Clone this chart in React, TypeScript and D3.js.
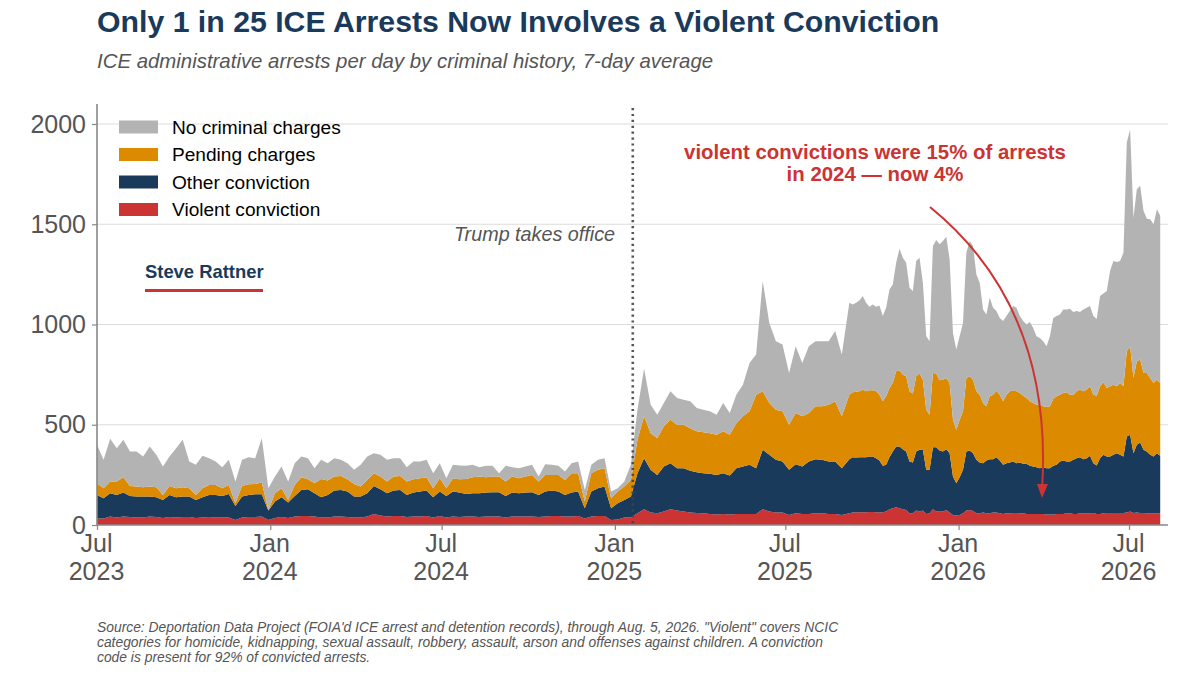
import React, { useEffect, useRef } from 'react';
import * as d3 from 'd3';

const font = '"Liberation Sans", Arial, sans-serif';

// readings, each one is the height of that band's upper edge.
// weekly up to spring 2025 - 114 values, then about twice a week - 94 values
const violentTop = [
  33, 33, 42, 38, 42, 40, 38, 38, 42, 40, 35, 40, 38, 40, 40, 35, 38, 40, 38, 38, 38, 25, 38, 40, 40, 42, 25, 35, 40, 35, 42, 45, 45, 42, 38, 38, 42, 42, 40, 38, 38, 42, 55, 48, 42,
  45, 45, 40, 42, 42, 45, 38, 45, 38, 42, 40, 42, 42, 40, 42, 42, 42, 38, 42, 42, 42, 42, 40, 42, 45, 45, 42, 42, 45, 33, 42, 45, 45, 25, 28, 38, 38,
  58, 78, 62, 58, 67, 78, 72, 67, 62, 60, 58, 55, 52, 55, 52, 55, 55, 55, 55, 78, 67, 62, 62, 50, 58, 55, 55, 58, 58, 55, 55, 50,
  58, 62, 63, 63, 63, 63, 65, 65, 63, 62, 63, 67, 78, 83, 88, 83, 78, 75, 58, 58, 72, 67, 72, 55, 58, 78, 67, 70, 67, 75, 62, 50, 47, 50, 58, 72, 75, 70, 58, 58, 62, 58, 58, 62, 62, 58, 55,
  58, 58, 60, 60, 58, 58, 55, 55, 55, 55, 55, 55, 52, 52, 52, 55, 55, 55, 58, 58, 55, 55, 58, 58, 58, 58, 60, 55, 55, 58, 60, 60, 60, 60, 60, 60, 62, 67, 60, 62, 60, 60, 58, 58, 58, 58, 58,
];
const otherTop = [
  150, 133, 158, 150, 162, 145, 142, 142, 142, 138, 125, 150, 138, 142, 142, 125, 138, 150, 150, 145, 155, 95, 142, 150, 153, 153, 72, 117, 138, 112, 145, 175, 178, 158, 138, 150, 172, 175, 167, 142, 142, 158, 195, 178, 158,
  172, 175, 150, 162, 167, 172, 138, 167, 145, 167, 162, 155, 158, 158, 162, 163, 163, 145, 162, 158, 162, 163, 150, 167, 172, 167, 150, 162, 167, 83, 167, 183, 192, 83, 108, 125, 142,
  258, 333, 275, 250, 292, 308, 283, 283, 270, 263, 258, 255, 250, 258, 247, 283, 292, 300, 283, 375, 350, 325, 317, 275, 303, 292, 317, 328, 325, 317, 317, 283,
  328, 338, 337, 338, 338, 338, 342, 342, 333, 322, 295, 300, 338, 367, 392, 392, 378, 367, 317, 312, 367, 375, 375, 275, 275, 388, 388, 372, 367, 378, 358, 242, 208, 238, 275, 367, 372, 358, 325, 312, 308, 322, 328, 328, 338, 322, 300,
  308, 312, 317, 308, 312, 305, 305, 295, 292, 288, 283, 288, 283, 283, 295, 300, 317, 322, 317, 317, 325, 333, 338, 328, 333, 345, 308, 297, 333, 350, 342, 342, 350, 358, 350, 342, 442, 450, 358, 400, 412, 375, 367, 350, 342, 358, 345,
];
const pendingTop = [
  208, 183, 217, 217, 238, 195, 192, 188, 192, 188, 150, 195, 183, 188, 183, 150, 183, 200, 200, 183, 200, 108, 195, 203, 205, 212, 75, 158, 183, 125, 200, 238, 228, 208, 230, 222, 242, 245, 228, 205, 192, 225, 258, 242, 217,
  242, 245, 217, 228, 233, 237, 183, 233, 183, 233, 228, 230, 238, 242, 238, 242, 242, 217, 242, 233, 242, 250, 217, 250, 250, 250, 225, 258, 258, 117, 258, 275, 283, 133, 167, 192, 225,
  425, 542, 458, 433, 492, 525, 500, 500, 483, 467, 462, 458, 450, 467, 450, 508, 542, 567, 650, 667, 608, 575, 567, 500, 558, 542, 558, 592, 592, 600, 617, 542,
  650, 662, 665, 667, 675, 667, 672, 672, 667, 650, 617, 642, 683, 708, 767, 772, 750, 742, 667, 655, 742, 755, 725, 575, 550, 758, 755, 722, 725, 733, 708, 525, 475, 525, 567, 733, 742, 725, 667, 650, 608, 592, 642, 650, 670, 650, 617,
  650, 667, 672, 667, 658, 645, 633, 617, 608, 600, 600, 592, 588, 592, 628, 642, 650, 658, 662, 650, 650, 667, 675, 667, 675, 692, 650, 645, 692, 712, 683, 692, 700, 692, 708, 692, 867, 892, 733, 817, 825, 758, 758, 733, 708, 725, 708,
];
const totalTop = [
  400, 325, 430, 383, 425, 367, 367, 342, 392, 350, 292, 342, 383, 425, 317, 300, 345, 333, 317, 288, 325, 217, 325, 338, 333, 433, 183, 242, 292, 217, 308, 342, 333, 283, 325, 308, 333, 325, 308, 275, 300, 342, 358, 350, 325,
  333, 333, 288, 317, 317, 325, 258, 308, 233, 300, 297, 295, 300, 288, 295, 295, 258, 295, 288, 283, 292, 300, 242, 303, 300, 295, 267, 308, 317, 175, 300, 325, 333, 167, 183, 217, 300,
  575, 780, 600, 550, 608, 667, 633, 625, 617, 583, 575, 567, 550, 608, 558, 650, 700, 808, 850, 1217, 1008, 917, 900, 758, 892, 808, 892, 917, 917, 917, 967, 850,
  1108, 1100, 1108, 1120, 1142, 1108, 1088, 1100, 1088, 1095, 1042, 1083, 1175, 1200, 1308, 1378, 1333, 1308, 1183, 1167, 1317, 1333, 1208, 942, 917, 1392, 1422, 1400, 1417, 1438, 1325, 958, 875, 942, 1008, 1358, 1417, 1392, 1250, 1208, 1075, 1050, 1133, 1083, 1067, 1033, 1017,
  1042, 1067, 1092, 1083, 1042, 1017, 1000, 1012, 983, 942, 933, 917, 892, 942, 1033, 1042, 1050, 1075, 1075, 1078, 1062, 1067, 1062, 1075, 1083, 1092, 1042, 1028, 1142, 1155, 1167, 1267, 1317, 1312, 1317, 1358, 1908, 1972, 1533, 1675, 1692, 1567, 1528, 1525, 1500, 1575, 1542,
];

const seriesNames = ['Violent conviction', 'Other conviction', 'Pending charges', 'No criminal charges'];
const seriesColors = ['#cc3333', '#1a3a5c', '#dc8a00', '#b3b3b3'];
const yTicks = [0, 500, 1000, 1500, 2000];
const xTicks = ['2023-07-01', '2024-01-01', '2024-07-01', '2025-01-01', '2025-07-01', '2026-01-01', '2026-07-01'];
const footnote = [
  'Source: Deportation Data Project (FOIA\'d ICE arrest and detention records), through Aug. 5, 2026. "Violent" covers NCIC',
  'categories for homicide, kidnapping, sexual assault, robbery, assault, arson and offenses against children. A conviction',
  'code is present for 92% of convicted arrests.',
];

const parseDay = d3.timeParse('%Y-%m-%d');
const startDate = parseDay('2023-07-01') as Date;
const inaugDate = parseDay('2025-01-20') as Date;
const weeklyCount = 114;
const dates = totalTop.map((_, i) => {
  const days = i < weeklyCount ? i * 7 : weeklyCount * 7 + 1 + (i - weeklyCount) * 3.55;
  return new Date(startDate.getTime() + days * 864e5);
});

const App: React.FC = () => {
  const chartRef = useRef<SVGSVGElement | null>(null);

  useEffect(() => {
    if (!chartRef.current) return;
    const svg = d3.select(chartRef.current);
    svg.selectAll('*').remove();

    const left = 97;
    const bottom = 525;

    const x = d3.scaleTime()
      .domain([startDate, parseDay('2026-07-01') as Date])
      .range([left, 1129]);
    const y = d3.scaleLinear().domain([0, 2000]).range([bottom, 124]);

    // Title block
    svg.append('text').attr('x', left).attr('y', 32).text('Only 1 in 25 ICE Arrests Now Involves a Violent Conviction')
      .style('font', `bold 30.25px ${font}`).style('fill', '#1a3a5c');
    svg.append('text').attr('x', left).attr('y', 68).text('ICE administrative arrests per day by criminal history, 7-day average')
      .style('font', `italic 20.4px ${font}`).style('fill', '#555');

    // Gridlines
    svg.append('g').selectAll('line').data(yTicks.slice(1)).enter().append('line')
      .attr('x1', left).attr('x2', 1168)
      .attr('y1', (d) => y(d)).attr('y2', (d) => y(d))
      .style('stroke', '#dcdcdc').style('stroke-width', 1.2);

    // Stacked bands
    const rows = dates.map((date, i) => ({
      date,
      [seriesNames[0]]: violentTop[i],
      [seriesNames[1]]: otherTop[i] - violentTop[i],
      [seriesNames[2]]: pendingTop[i] - otherTop[i],
      [seriesNames[3]]: totalTop[i] - pendingTop[i],
    }));
    const stacked = d3.stack<any>().keys(seriesNames)(rows);
    const area = d3.area<any>()
      .x((d) => x(d.data.date))
      .y0((d) => y(d[0]))
      .y1((d) => y(d[1]));

    svg.append('g').selectAll('path').data(stacked).enter().append('path')
      .attr('d', area as any)
      .style('fill', (_, i) => seriesColors[i]);

    // Inauguration marker
    svg.append('line')
      .attr('x1', x(inaugDate)).attr('x2', x(inaugDate))
      .attr('y1', 108).attr('y2', bottom)
      .style('stroke', '#444').style('stroke-width', 2.6).style('stroke-dasharray', '2.2 3.7').style('opacity', 0.9);
    svg.append('text').attr('x', 615).attr('y', 241).attr('text-anchor', 'end').text('Trump takes office')
      .style('font', `italic 19.75px ${font}`).style('fill', '#555');

    // Axes
    const yAxis = svg.append('g').attr('transform', `translate(${left},0)`)
      .call(d3.axisLeft(y).tickValues(yTicks).tickSize(5).tickPadding(6).tickFormat(d3.format('d') as any));
    yAxis.select('.domain').remove();
    yAxis.selectAll('.tick line').style('stroke', '#888').style('stroke-width', 1.2);
    yAxis.selectAll('text').style('font', `25px ${font}`).style('fill', '#555');
    svg.append('line').attr('x1', left).attr('x2', left).attr('y1', 104).attr('y2', bottom + 1)
      .style('stroke', '#888').style('stroke-width', 1.6);
    svg.append('line').attr('x1', left).attr('x2', 1168).attr('y1', bottom).attr('y2', bottom)
      .style('stroke', '#888').style('stroke-width', 1.6);

    const xAxis = svg.append('g').attr('transform', `translate(0,${bottom})`)
      .call(d3.axisBottom(x).tickValues(xTicks.map((d) => parseDay(d) as Date)).tickSize(5).tickFormat(() => ''));
    xAxis.select('.domain').remove();
    xAxis.selectAll('.tick line').style('stroke', '#888').style('stroke-width', 1.2);
    const labels = xAxis.selectAll<SVGTextElement, Date>('.tick text').style('font', `25px ${font}`).style('fill', '#555')
      .attr('y', 0).attr('dy', 0);
    labels.append('tspan').attr('x', -1).attr('y', 27).text((d) => d3.timeFormat('%b')(d));
    labels.append('tspan').attr('x', -1).attr('y', 55).text((d) => d3.timeFormat('%Y')(d));

    // Legend
    const legendY = d3.scalePoint<string>().domain([...seriesNames].reverse()).range([127, 209.5]);
    const legend = svg.append('g');
    seriesNames.forEach((name, i) => {
      legend.append('rect').attr('x', 119).attr('y', (legendY(name) as number) - 6.5).attr('width', 39).attr('height', 13)
        .attr('fill', seriesColors[i]);
      legend.append('text').attr('x', 172).attr('y', (legendY(name) as number) + 6.5).text(name)
        .style('font', `19.1px ${font}`).style('fill', '#000');
    });

    // Signature
    svg.append('text').attr('x', 145).attr('y', 278).text('Steve Rattner')
      .style('font', `bold 18.4px ${font}`).style('fill', '#1a3a5c');
    svg.append('line').attr('x1', 145).attr('x2', 263).attr('y1', 290.5).attr('y2', 290.5)
      .style('stroke', '#cc3333').style('stroke-width', 3);

    // Red annotation and curved arrow
    const note = svg.append('text').attr('text-anchor', 'middle').style('font', `bold 20.4px ${font}`).style('fill', '#cc3333');
    note.append('tspan').attr('x', 875).attr('y', 159).text('violent convictions were 15% of arrests');
    note.append('tspan').attr('x', 875).attr('y', 181).text('in 2024 \u2014 now 4%');
    svg.append('path')
      .attr('d', 'M930,207 Q1054,308 1042,490')
      .style('fill', 'none').style('stroke', '#cc3333').style('stroke-width', 2);
    svg.append('path').attr('d', 'M1037,484 L1048,484 L1042,498 Z').style('fill', '#cc3333');

    // Source note
    const source = svg.append('text').style('font', `italic 13.85px ${font}`).style('fill', '#555');
    footnote.forEach((line, i) => {
      source.append('tspan').attr('x', left).attr('y', 632 + i * 15).text(line);
    });
  }, []);

  return <svg ref={chartRef} width={1200} height={675} style={{ position: 'absolute', left: 0, top: 0, background: '#fff' }}></svg>;
};

export default App;
